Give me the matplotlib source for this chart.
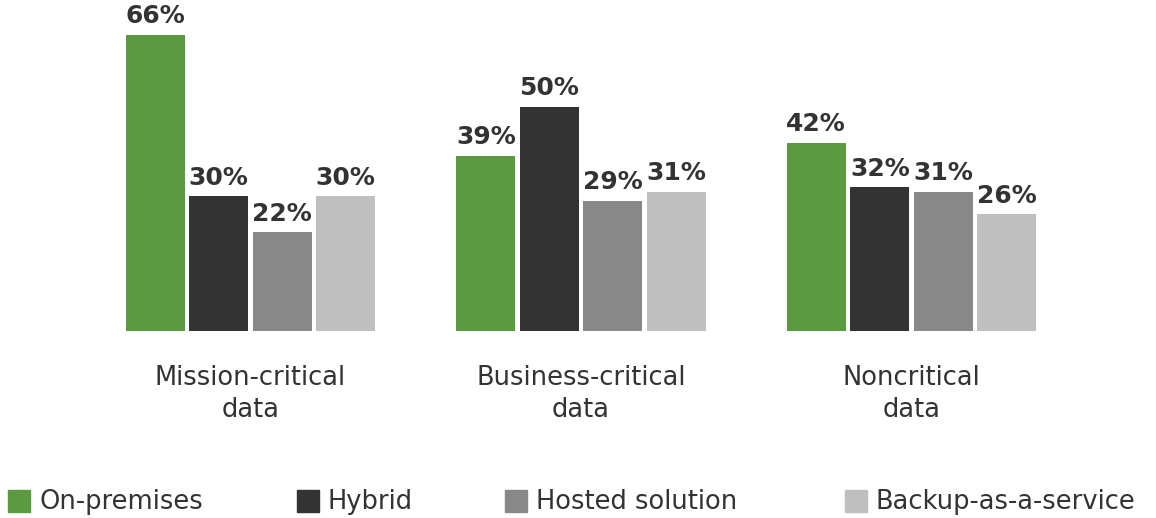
import matplotlib.pyplot as plt
from matplotlib.patches import Rectangle

categories = ["Mission-critical\ndata", "Business-critical\ndata", "Noncritical\ndata"]
series = ["On-premises", "Hybrid", "Hosted solution", "Backup-as-a-service"]
on_premises = [66, 39, 42]
hybrid = [30, 50, 32]
hosted = [22, 29, 31]
baas = [30, 31, 26]

colors = ["#5c9a42", "#333333", "#888888", "#bfbfbf"]
text_color = "#333333"

W, H = 1156, 518
fig = plt.figure(figsize=(W / 100, H / 100), dpi=100)
ax = fig.add_axes([0, 0, 1, 1])

# layout in pixels of the reference
group_step = 330.5
first_center = 250.5
bar_w = 59 / group_step
bar_step = 63.5 / group_step
px_per_pct = 4.485
baseline = 331

ax.set_xlim(-first_center / group_step, (W - first_center) / group_step)
ax.set_ylim((baseline - H) / px_per_pct, baseline / px_per_pct)
ax.axis("off")

values = [on_premises, hybrid, hosted, baas]
for i, vals in enumerate(values):
    offset = (i - 1.5) * bar_step
    for g, v in enumerate(vals):
        x = g + offset
        ax.bar(x, v, width=bar_w, color=colors[i], align="center")
        ax.text(x, v + 1.5, f"{v}%", ha="center", va="bottom",
                fontsize=18, fontweight="bold", color=text_color)

for g, cat in enumerate(categories):
    ax.text(g, (baseline - 394) / px_per_pct, cat, ha="center", va="center",
            fontsize=18.5, color=text_color, linespacing=1.3)

# legend
legend_x = [8, 297, 505, 845]
for i, name in enumerate(series):
    x0 = legend_x[i]
    fig.patches.append(Rectangle((x0 / W, (H - 512) / H), 22 / W, 22 / H,
                                 transform=fig.transFigure, color=colors[i]))
    fig.text((x0 + 31) / W, (H - 502) / H, name, ha="left", va="center",
             fontsize=18.5, color=text_color)

plt.savefig("out.png", dpi=100)
